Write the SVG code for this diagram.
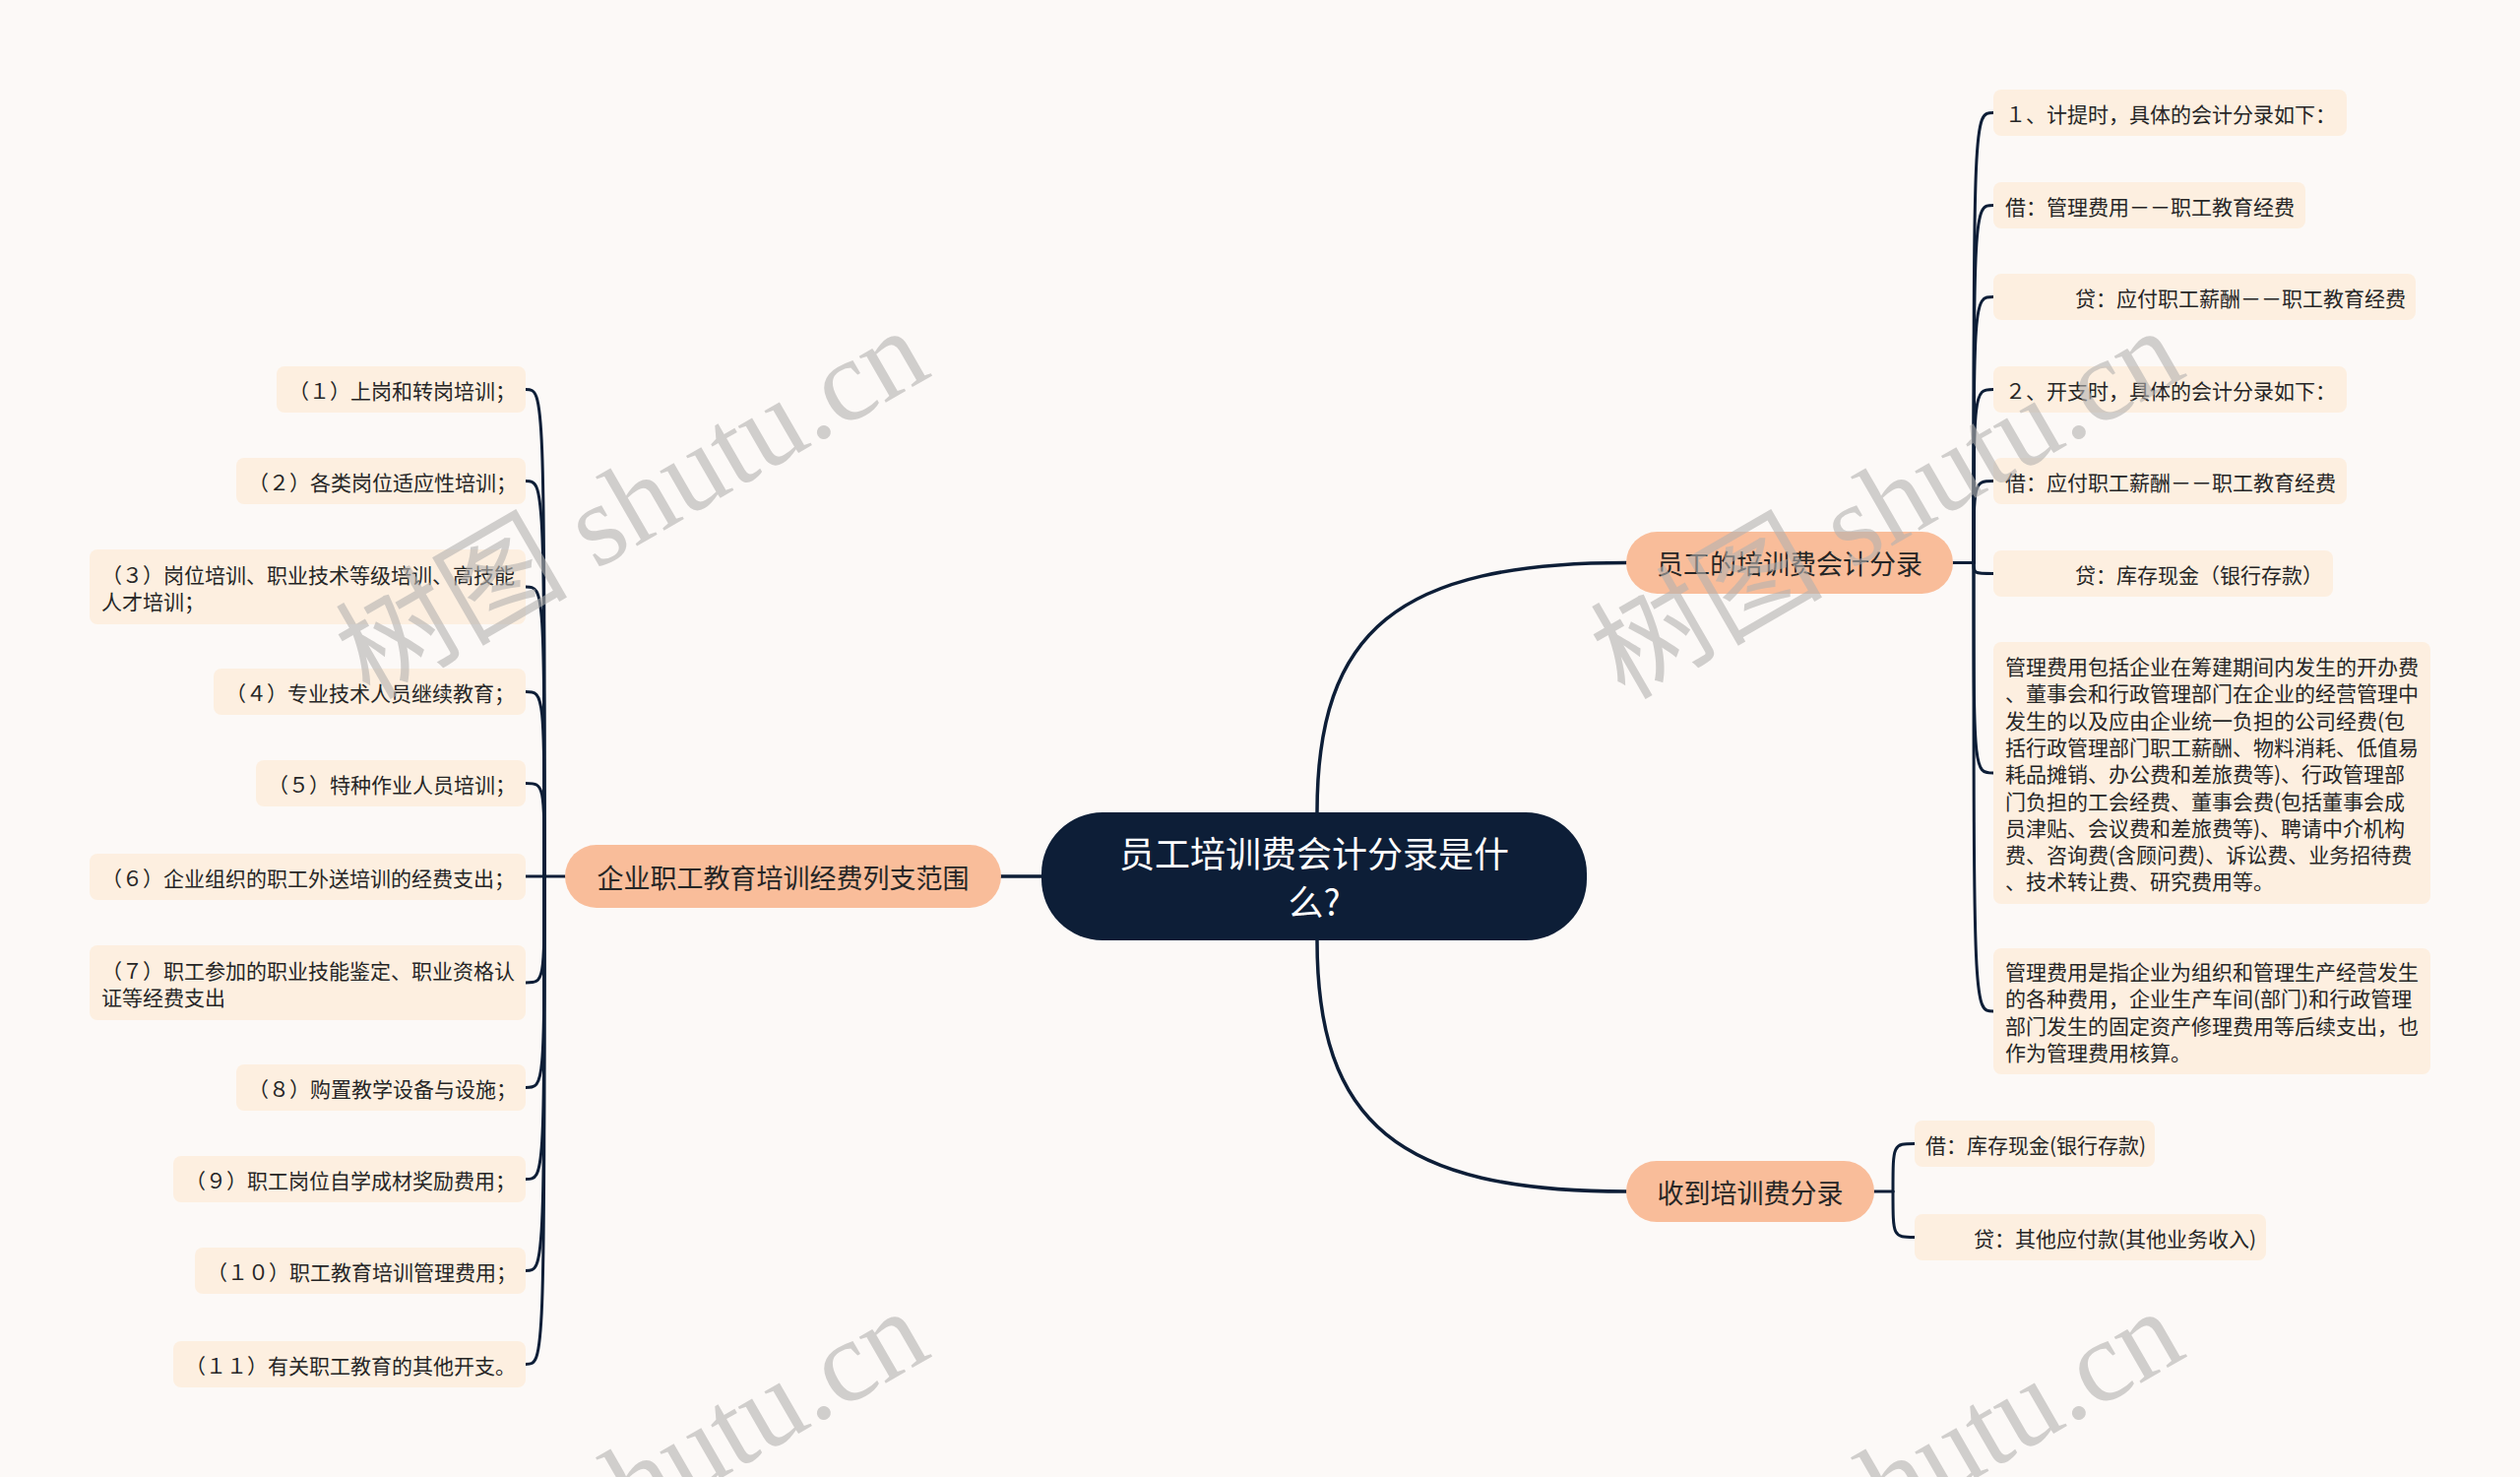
<svg xmlns="http://www.w3.org/2000/svg" width="2560" height="1500" viewBox="0 0 2560 1500">
<style>
.bg{fill:#fcf9f7}
.t{font-family:"Noto Sans CJK SC","Noto Sans",sans-serif;dominant-baseline:central;fill:#262626}
.leaf rect{fill:#fdefe0}
.leaf text{font-size:21px}
.br rect{fill:#f9bd9a}
.br text{font-size:27px;text-anchor:middle}
.root rect{fill:#0d1e37}
.root text{font-size:36px;text-anchor:middle;fill:#ffffff}
.ln{fill:none;stroke:#0d1e37;stroke-width:3;stroke-linecap:round}
.ln2{fill:none;stroke:#0d1e37;stroke-width:3.5;stroke-linecap:round}
.wm{font-family:"Liberation Serif","Noto Sans CJK SC",serif;font-size:118px;fill:#b4b2b0;opacity:0.6;text-anchor:middle}
</style>
<rect class="bg" x="0" y="0" width="2560" height="1500"/>

<g id="connectors">
  <path class="ln2" d="M1338,825 C1338,640 1420,571.5 1652,571.5"/>
  <path class="ln2" d="M1338,955 C1338,1140 1420,1210 1652,1210"/>
  <path class="ln2" d="M1016,890 L1058,890"/>
  <path class="ln" d="M1984,571.5 L2005,571.5"/>
  <path class="ln" d="M2005,571.5 C2005,114.5 2005,114.5 2025,114.5"/>
  <path class="ln" d="M2005,571.5 C2005,208.5 2005,208.5 2025,208.5"/>
  <path class="ln" d="M2005,571.5 C2005,301.5 2005,301.5 2025,301.5"/>
  <path class="ln" d="M2005,571.5 C2005,395.5 2005,395.5 2025,395.5"/>
  <path class="ln" d="M2005,571.5 C2005,488.5 2005,488.5 2025,488.5"/>
  <path class="ln" d="M2005,571.5 C2005,582.5 2005,582.5 2025,582.5"/>
  <path class="ln" d="M2005,571.5 C2005,785 2005,785 2025,785"/>
  <path class="ln" d="M2005,571.5 C2005,1027 2005,1027 2025,1027"/>
  <path class="ln" d="M1904,1210 L1923,1210"/>
  <path class="ln" d="M1923,1210 C1923,1161.5 1923,1161.5 1945,1161.5"/>
  <path class="ln" d="M1923,1210 C1923,1256.5 1923,1256.5 1945,1256.5"/>
  <path class="ln" d="M574,890 L553,890"/>
  <path class="ln" d="M553,890 C553,395.5 553,395.5 534,395.5"/>
  <path class="ln" d="M553,890 C553,488.5 553,488.5 534,488.5"/>
  <path class="ln" d="M553,890 C553,596 553,596 534,596"/>
  <path class="ln" d="M553,890 C553,702.5 553,702.5 534,702.5"/>
  <path class="ln" d="M553,890 C553,795.5 553,795.5 534,795.5"/>
  <path class="ln" d="M553,890 L534,890"/>
  <path class="ln" d="M553,890 C553,998 553,998 534,998"/>
  <path class="ln" d="M553,890 C553,1104.5 553,1104.5 534,1104.5"/>
  <path class="ln" d="M553,890 C553,1197.5 553,1197.5 534,1197.5"/>
  <path class="ln" d="M553,890 C553,1290.5 553,1290.5 534,1290.5"/>
  <path class="ln" d="M553,890 C553,1385.5 553,1385.5 534,1385.5"/>
</g>

<g id="root" class="root">
  <rect x="1058" y="825" width="554" height="130" rx="62"/>
  <text class="t" x="1335" y="865">员工培训费会计分录是什</text>
  <text class="t" x="1335" y="914">么?</text>
</g>

<g id="branch-right-1" class="br">
  <rect x="1652" y="540" width="332" height="63" rx="31.5"/>
  <text class="t" x="1818" y="571.5">员工的培训费会计分录</text>
</g>
<g id="branch-right-2" class="br">
  <rect x="1652" y="1179" width="252" height="62" rx="31"/>
  <text class="t" x="1778" y="1210">收到培训费分录</text>
</g>
<g id="branch-left" class="br">
  <rect x="574" y="858" width="443" height="64" rx="32"/>
  <text class="t" x="795.5" y="890">企业职工教育培训经费列支范围</text>
</g>

<g id="r1" class="leaf"><rect x="2025" y="91" width="359" height="47" rx="8"/><text class="t" x="2037" y="114.5">１、计提时，具体的会计分录如下：</text></g>
<g id="r2" class="leaf"><rect x="2025" y="185" width="317" height="47" rx="8"/><text class="t" x="2037" y="208.5">借：管理费用－－职工教育经费</text></g>
<g id="r3" class="leaf"><rect x="2025" y="278" width="429" height="47" rx="8"/><text class="t" x="2108" y="301.5">贷：应付职工薪酬－－职工教育经费</text></g>
<g id="r4" class="leaf"><rect x="2025" y="372" width="359" height="47" rx="8"/><text class="t" x="2037" y="395.5">２、开支时，具体的会计分录如下：</text></g>
<g id="r5" class="leaf"><rect x="2025" y="465" width="359" height="47" rx="8"/><text class="t" x="2037" y="488.5">借：应付职工薪酬－－职工教育经费</text></g>
<g id="r6" class="leaf"><rect x="2025" y="559" width="345" height="47" rx="8"/><text class="t" x="2108" y="582.5">贷：库存现金（银行存款）</text></g>
<g id="r7" class="leaf"><rect x="2025" y="652" width="444" height="266" rx="8"/>
  <text class="t" x="2037" y="676">管理费用包括企业在筹建期间内发生的开办费</text>
  <text class="t" x="2037" y="703.3">、董事会和行政管理部门在企业的经营管理中</text>
  <text class="t" x="2037" y="730.6">发生的以及应由企业统一负担的公司经费(包</text>
  <text class="t" x="2037" y="757.9">括行政管理部门职工薪酬、物料消耗、低值易</text>
  <text class="t" x="2037" y="785.2">耗品摊销、办公费和差旅费等)、行政管理部</text>
  <text class="t" x="2037" y="812.5">门负担的工会经费、董事会费(包括董事会成</text>
  <text class="t" x="2037" y="839.8">员津贴、会议费和差旅费等)、聘请中介机构</text>
  <text class="t" x="2037" y="867.1">费、咨询费(含顾问费)、诉讼费、业务招待费</text>
  <text class="t" x="2037" y="894.4">、技术转让费、研究费用等。</text>
</g>
<g id="r8" class="leaf"><rect x="2025" y="963" width="444" height="128" rx="8"/>
  <text class="t" x="2037" y="986">管理费用是指企业为组织和管理生产经营发生</text>
  <text class="t" x="2037" y="1013.3">的各种费用，企业生产车间(部门)和行政管理</text>
  <text class="t" x="2037" y="1040.6">部门发生的固定资产修理费用等后续支出，也</text>
  <text class="t" x="2037" y="1067.9">作为管理费用核算。</text>
</g>

<g id="s1" class="leaf"><rect x="1945" y="1138" width="244" height="47" rx="8"/><text class="t" x="1956" y="1161.5">借：库存现金(银行存款)</text></g>
<g id="s2" class="leaf"><rect x="1945" y="1233" width="357" height="47" rx="8"/><text class="t" x="2005" y="1256.5">贷：其他应付款(其他业务收入)</text></g>

<g id="l1" class="leaf"><rect x="281" y="372" width="253" height="47" rx="8"/><text class="t" x="293" y="395.5">（１）上岗和转岗培训；</text></g>
<g id="l2" class="leaf"><rect x="240" y="465" width="294" height="47" rx="8"/><text class="t" x="252" y="488.5">（２）各类岗位适应性培训；</text></g>
<g id="l3" class="leaf"><rect x="91" y="558" width="443" height="76" rx="8"/>
  <text class="t" x="103" y="582.5">（３）岗位培训、职业技术等级培训、高技能</text>
  <text class="t" x="103" y="609.5">人才培训；</text>
</g>
<g id="l4" class="leaf"><rect x="217" y="679" width="317" height="47" rx="8"/><text class="t" x="229" y="702.5">（４）专业技术人员继续教育；</text></g>
<g id="l5" class="leaf"><rect x="260" y="772" width="274" height="47" rx="8"/><text class="t" x="272" y="795.5">（５）特种作业人员培训；</text></g>
<g id="l6" class="leaf"><rect x="91" y="867" width="443" height="47" rx="8"/><text class="t" x="103" y="890.5">（６）企业组织的职工外送培训的经费支出；</text></g>
<g id="l7" class="leaf"><rect x="91" y="960" width="443" height="76" rx="8"/>
  <text class="t" x="103" y="984.5">（７）职工参加的职业技能鉴定、职业资格认</text>
  <text class="t" x="103" y="1011.5">证等经费支出</text>
</g>
<g id="l8" class="leaf"><rect x="240" y="1081" width="294" height="47" rx="8"/><text class="t" x="252" y="1104.5">（８）购置教学设备与设施；</text></g>
<g id="l9" class="leaf"><rect x="176" y="1174" width="358" height="47" rx="8"/><text class="t" x="188" y="1197.5">（９）职工岗位自学成材奖励费用；</text></g>
<g id="l10" class="leaf"><rect x="198" y="1267" width="336" height="47" rx="8"/><text class="t" x="210" y="1290.5">（１０）职工教育培训管理费用；</text></g>
<g id="l11" class="leaf"><rect x="176" y="1362" width="358" height="47" rx="8"/><text class="t" x="188" y="1385.5">（１１）有关职工教育的其他开支。</text></g>

<g id="watermarks">
  <text class="wm" transform="translate(662,546) rotate(-30)">树图 shutu.cn</text>
  <text class="wm" transform="translate(1937,546) rotate(-30)">树图 shutu.cn</text>
  <text class="wm" transform="translate(662,1542) rotate(-30)">树图 shutu.cn</text>
  <text class="wm" transform="translate(1937,1542) rotate(-30)">树图 shutu.cn</text>
</g>
</svg>
